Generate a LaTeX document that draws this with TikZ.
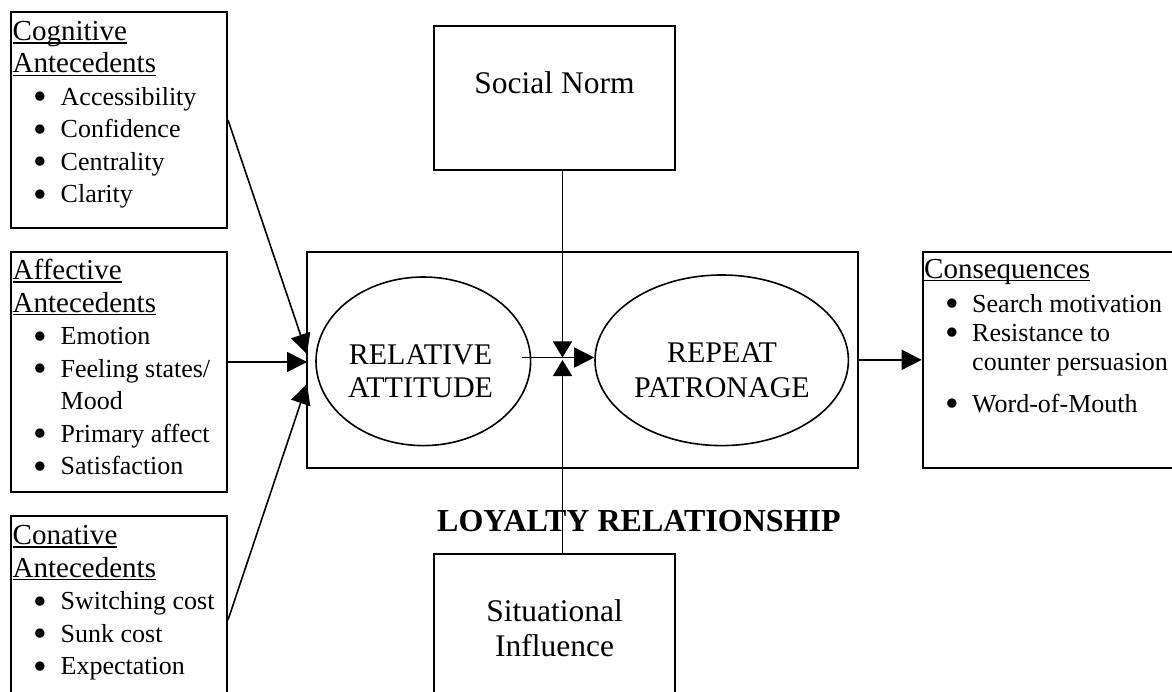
\documentclass[tikz,border=0pt]{standalone}
\usepackage{fontspec}
\setmainfont{Liberation Serif}
\usetikzlibrary{arrows.meta,shapes.geometric,calc}
\newcommand\uln[1]{\setbox0\hbox{#1}\rlap{\rule[-3.2pt]{\wd0}{1.5pt}}\box0}
\newcommand\hd[1]{{\fontsize{29}{32.5}\selectfont\uln{#1}}}
\newcommand\bitem[1]{\makebox[48pt][l]{\hspace{21pt}\smash{\raisebox{-4.5pt}{\scalebox{1.5}{\textbullet}}}}#1}
\newcommand\bcont[1]{\hspace*{48pt}#1}
\begin{document}
\begin{tikzpicture}[x=1pt,y=-1pt,
  box/.style={draw,line width=2pt,inner sep=0pt,rectangle},
  oval/.style={draw,line width=1.6pt,inner sep=0pt,ellipse},
  txt/.style={inner sep=0pt,align=left,font=\fontsize{26}{32.5}\selectfont},
  arr/.style={line width=1.6pt,-{Triangle[length=20pt,width=20pt]}},
  varr/.style={line width=1.6pt,-{Triangle[length=16pt,width=19pt]}}]
\useasboundingbox[fill=white] (0,0) rectangle (1172,692);
% boxes
\node[box,minimum width=216pt,minimum height=216pt] (cog) at (119,120) {};
\node[box,minimum width=216pt,minimum height=240pt] (aff) at (119,372) {};
\node[box,minimum width=216pt,minimum height=200pt] (con) at (119,616) {};
\node[box,minimum width=241pt,minimum height=144.3pt] (sn) at (554.5,97.85) {};
\node[box,minimum width=241pt,minimum height=160pt] (si) at (554.5,634) {};
\node[box,minimum width=551.6pt,minimum height=215.7pt] (loy) at (582.5,359.85) {};
\node[box,minimum width=270.3pt,minimum height=215.7pt] (cons) at (1057.85,359.85) {};
\node[oval,minimum width=214.6pt,minimum height=168.6pt] (ra) at (423.3,361.3) {};
\node[oval,minimum width=253.4pt,minimum height=170.6pt] (rp) at (721.7,360.3) {};
% texts (anchored at the baseline of their last line)
\node[txt,anchor=base west] (cogT) at (12.5,203) {\hd{Cognitive}\\ \hd{Antecedents}\\ \bitem{Accessibility}\\ \bitem{Confidence}\\ \bitem{Centrality}\\ \bitem{Clarity}};
\node[txt,anchor=base west] (affT) at (12.5,474.5) {\hd{Affective}\\ \hd{Antecedents}\\ \bitem{Emotion}\\ \bitem{Feeling states/}\\ \bcont{Mood}\\ \bitem{Primary affect}\\ \bitem{Satisfaction}};
\node[txt,anchor=base west] (conT) at (12.5,674.5) {\hd{Conative}\\ \hd{Antecedents}\\ \bitem{Switching cost}\\ \bitem{Sunk cost}\\ \bitem{Expectation}};
\node[txt,anchor=base west,font=\fontsize{26}{29}\selectfont] (consT) at (924,412) {\hd{Consequences}\\[5pt] \bitem{Search motivation}\\ \bitem{Resistance to}\\ \bcont{counter persuasion}\\[13pt] \bitem{Word-of-Mouth}};
\node[inner sep=0pt,anchor=base,font=\fontsize{31.5}{35}\selectfont] (snT) at (554.5,94) {Social Norm};
\node[inner sep=0pt,anchor=base,align=center,font=\fontsize{31.5}{35}\selectfont] (siT) at (554.5,656.7) {Situational\\Influence};
\node[inner sep=0pt,anchor=base,align=center,font=\fontsize{30}{33.3}\selectfont] (raT) at (420.5,397.3) {RELATIVE\\ATTITUDE};
\node[inner sep=0pt,anchor=base,align=center,font=\fontsize{30}{35}\selectfont] (rpT) at (722,397) {REPEAT\\PATRONAGE};
\node[inner sep=0pt,anchor=base west,font=\fontsize{32}{36}\selectfont\bfseries] (loyT) at (437,531) {LOYALTY RELATIONSHIP};
% connectors
\coordinate (t1) at (307,354);
\coordinate (t2) at (307,362);
\coordinate (t3) at (307,384);
\coordinate (mid) at (562.5,357.5);
\draw[arr] (cog.east) -- (t1);
\draw[arr] (aff.east |- t2) -- (t2);
\draw[arr] ([yshift=-4pt]con.east) -- (t3);
\draw[varr] (sn.south -| mid) -- (mid);
\draw[varr] (si.north -| mid) -- ([yshift=-2.5pt]mid);
\draw[arr] ($(ra.east |- mid)+(-9,0)$) -- (rp.west |- mid);
\draw[arr] (loy.east) -- (cons.west);
\end{tikzpicture}
\end{document}
